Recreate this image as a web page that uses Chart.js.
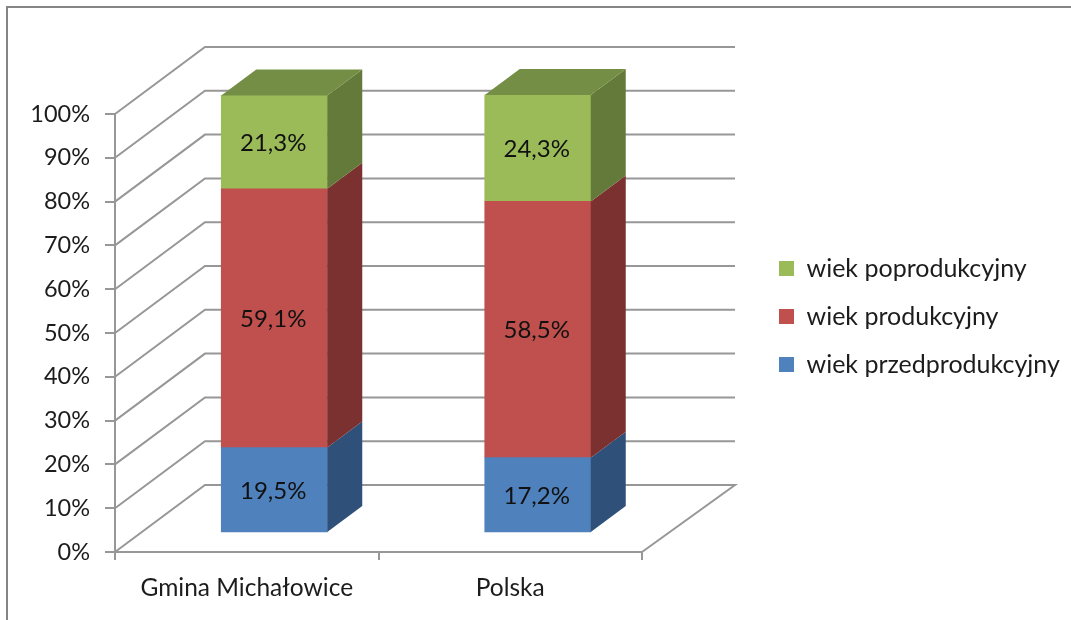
<!DOCTYPE html>
<html>
<head>
<meta charset="utf-8">
<script src="https://cdn.jsdelivr.net/npm/chart.js@4"></script>
<style>
    html, body { margin: 0; padding: 0; background: #fff; }
    #wrap { width: 1071px; height: 620px; }
</style>
</head>
<body>
<div id="wrap"><canvas id="ageChart" width="1071" height="620"></canvas></div>
<script>
const categories = ['Gmina Michałowice', 'Polska'];
const seriesNames = ['wiek przedprodukcyjny', 'wiek produkcyjny', 'wiek poprodukcyjny'];
const przedprodukcyjny = [19.5, 17.2];
const produkcyjny = [59.1, 58.5];
const poprodukcyjny = [21.3, 24.3];
const yTicks = [0, 10, 20, 30, 40, 50, 60, 70, 80, 90, 100];

const frontColors = ['#4f81bd', '#c0504d', '#9bbb59'];
const sideColors = ['#2f5078', '#7b3130', '#647a3a'];
const topColor = '#748f45';
const gridColor = '#979797';
const textColor = '#1c1c1c';
const fontFamily = 'Lato, "Open Sans", sans-serif';

// how far the walls and the bars sit behind the axis plane
const wallDepth = { x: 90, y: -67 };
const barShift = { x: 27.5, y: -19 };
const barDepth = { x: 35, y: -26 };

function fillPoly(ctx, color, pts) {
    ctx.fillStyle = color;
    ctx.beginPath();
    pts.forEach((p, i) => i ? ctx.lineTo(p[0], p[1]) : ctx.moveTo(p[0], p[1]));
    ctx.closePath();
    ctx.fill();
}

const fakeThreeD = {
    id: 'fakeThreeD',
    beforeDraw(chart) {
        const ctx = chart.ctx;
        // picture frame, only left and top are visible
        ctx.save();
        ctx.strokeStyle = '#858585';
        ctx.lineWidth = 2;
        ctx.beginPath();
        ctx.moveTo(7, 620);
        ctx.lineTo(7, 7);
        ctx.lineTo(1071, 7);
        ctx.stroke();
        ctx.restore();

        // legend goes to the right of the plot, out of the layout
        const lg = chart.legend;
        lg.left = 756;
        lg.right = 1071;
        lg.top = 233;
        lg.bottom = 400;
    },
    beforeDatasetsDraw(chart) {
        const ctx = chart.ctx;
        const { left, right } = chart.chartArea;
        const y = chart.scales.y;
        ctx.save();
        ctx.strokeStyle = gridColor;
        ctx.lineWidth = 2;
        yTicks.forEach(v => {
            const py = y.getPixelForValue(v);
            ctx.beginPath();
            ctx.moveTo(left, py);
            ctx.lineTo(left + wallDepth.x, py + wallDepth.y);
            ctx.lineTo(right + 93, py + wallDepth.y);
            if (v === 0) ctx.lineTo(right, py);
            ctx.stroke();
        });
        ctx.restore();

        ctx.save();
        ctx.translate(barShift.x, barShift.y);
    },
    afterDatasetsDraw(chart) {
        const ctx = chart.ctx;
        const last = chart.data.datasets.length - 1;
        chart.data.datasets.forEach((ds, d) => {
            chart.getDatasetMeta(d).data.forEach(bar => {
                const l = bar.x - bar.width / 2;
                const r = bar.x + bar.width / 2;
                fillPoly(ctx, sideColors[d], [
                    [r, bar.base], [r, bar.y],
                    [r + barDepth.x, bar.y + barDepth.y], [r + barDepth.x, bar.base + barDepth.y]
                ]);
                if (d === last) {
                    fillPoly(ctx, topColor, [
                        [l, bar.y], [r, bar.y],
                        [r + barDepth.x, bar.y + barDepth.y], [l + barDepth.x, bar.y + barDepth.y]
                    ]);
                }
            });
        });

        ctx.fillStyle = '#111';
        ctx.font = '24px ' + fontFamily;
        ctx.textAlign = 'center';
        ctx.textBaseline = 'middle';
        chart.data.datasets.forEach((ds, d) => {
            chart.getDatasetMeta(d).data.forEach((bar, i) => {
                const label = ds.data[i].toFixed(1).replace('.', ',') + '%';
                ctx.fillText(label, bar.x - 1, (bar.y + bar.base) / 2 + 1);
            });
        });
        ctx.restore();
    }
};

new Chart(document.getElementById('ageChart'), {
    type: 'bar',
    plugins: [fakeThreeD],
    data: {
        labels: categories,
        datasets: [
            { label: seriesNames[0], data: przedprodukcyjny, backgroundColor: frontColors[0] },
            { label: seriesNames[1], data: produkcyjny, backgroundColor: frontColors[1] },
            { label: seriesNames[2], data: poprodukcyjny, backgroundColor: frontColors[2] }
        ]
    },
    options: {
        responsive: false,
        animation: false,
        events: [],
        clip: false,
        barThickness: 106,
        layout: { padding: { top: 114, right: 429, left: 0, bottom: 0 } },
        plugins: {
            tooltip: { enabled: false },
            legend: {
                position: 'chartArea',
                align: 'start',
                reverse: true,
                labels: {
                    boxWidth: 15,
                    boxHeight: 15,
                    padding: 23,
                    color: textColor,
                    font: { family: fontFamily, size: 25 }
                }
            }
        },
        scales: {
            x: {
                stacked: true,
                afterFit(scale) { scale.height = 68; },
                border: { color: gridColor, width: 2 },
                grid: { offset: true, drawOnChartArea: false, color: gridColor, lineWidth: 2, tickLength: 8 },
                ticks: { color: textColor, padding: 13, maxRotation: 0, font: { family: fontFamily, size: 24.5 } }
            },
            y: {
                stacked: true,
                min: 0,
                max: 100,
                afterFit(scale) { scale.width = 115; },
                afterBuildTicks(scale) { scale.ticks = yTicks.map(v => ({ value: v })); },
                border: { color: gridColor, width: 2 },
                grid: { drawOnChartArea: false, color: gridColor, lineWidth: 2, tickLength: 10 },
                ticks: {
                    color: textColor,
                    padding: 15,
                    font: { family: fontFamily, size: 23.5 },
                    callback: v => v + '%'
                }
            }
        }
    }
});
</script>
</body>
</html>
